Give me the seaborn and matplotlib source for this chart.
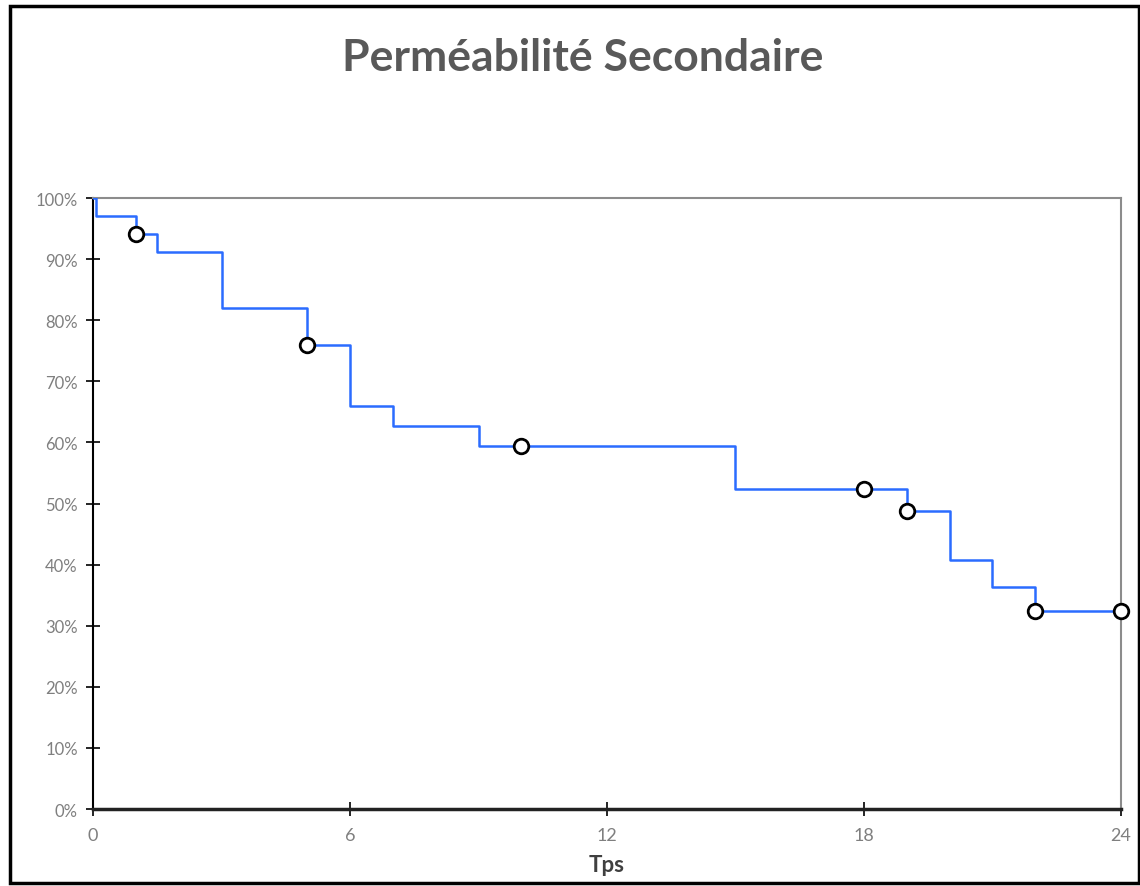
import matplotlib
matplotlib.use("Agg")
import matplotlib.pyplot as plt
import seaborn as sns
import pandas as pd
from matplotlib.ticker import PercentFormatter
from matplotlib.patches import Rectangle

# step curve (time, survival % after the step)
step_time = [0, 0.07, 1, 1.5, 3, 5, 6, 7, 9, 15, 19, 20, 21, 22, 24]
step_surv = [100, 97.1, 94.1, 91.1, 82.0, 75.9, 66.0, 62.7, 59.4, 52.4, 48.7, 40.7, 36.4, 32.4, 32.4]

# censored points
cens_time = [1, 5, 10, 18, 19, 22, 24]
cens_surv = [94.1, 75.9, 59.4, 52.4, 48.7, 32.4, 32.4]

x_ticks = [0, 6, 12, 18, 24]
y_ticks = list(range(0, 101, 10))

sns.set_theme(style="white")
plt.rcParams['font.family'] = ['Lato', 'DejaVu Sans']

df = pd.DataFrame({"Tps": step_time, "surv": step_surv})
cens = pd.DataFrame({"Tps": cens_time, "surv": cens_surv})

fig = plt.figure(figsize=(11.4, 8.87), dpi=100)
ax = fig.add_axes([0.0816, 0.0868, 0.9017, 0.6888])

sns.lineplot(data=df, x="Tps", y="surv", drawstyle="steps-post", color="#2b6cff",
             linewidth=1.8, estimator=None, ax=ax, zorder=3)
sns.scatterplot(data=cens, x="Tps", y="surv", marker="o", s=110, facecolor="white",
                edgecolor="black", linewidth=2, ax=ax, zorder=4, clip_on=False)

ax.set_xlim(0, 24)
ax.set_ylim(0, 100)
ax.set_xticks(x_ticks)
ax.set_yticks(y_ticks)
ax.yaxis.set_major_formatter(PercentFormatter(xmax=100, decimals=0))

ax.tick_params(axis="both", bottom=True, left=True, direction="inout", length=10,
               width=1.2, color="black", labelcolor="#7f7f7f", labelsize=12)
ax.tick_params(axis="x", pad=8)
ax.tick_params(axis="y", pad=6)
for lab in ax.get_xticklabels():
    lab.set_fontsize(13)

ax.spines["left"].set_color("black")
ax.spines["left"].set_linewidth(1.5)
ax.spines["bottom"].set_color("#222222")
ax.spines["bottom"].set_linewidth(2.5)
ax.spines["top"].set_color("#8c8c8c")
ax.spines["top"].set_linewidth(1.5)
ax.spines["right"].set_color("#8c8c8c")
ax.spines["right"].set_linewidth(1.5)

ax.set_ylabel("")
ax.set_xlabel("Tps", fontsize=16, fontweight="bold", color="#404040", labelpad=8)

fig.text(0.511, 0.935, "Perméabilité Secondaire", ha="center", va="center",
         fontsize=32, fontweight="bold", color="#595959")

# outer frame of the chart
fig.patches.append(Rectangle((0.009, 0.003), 0.99, 0.989, transform=fig.transFigure,
                             fill=False, edgecolor="black", linewidth=2.5))

fig.savefig("out.png", dpi=100, facecolor="white")
